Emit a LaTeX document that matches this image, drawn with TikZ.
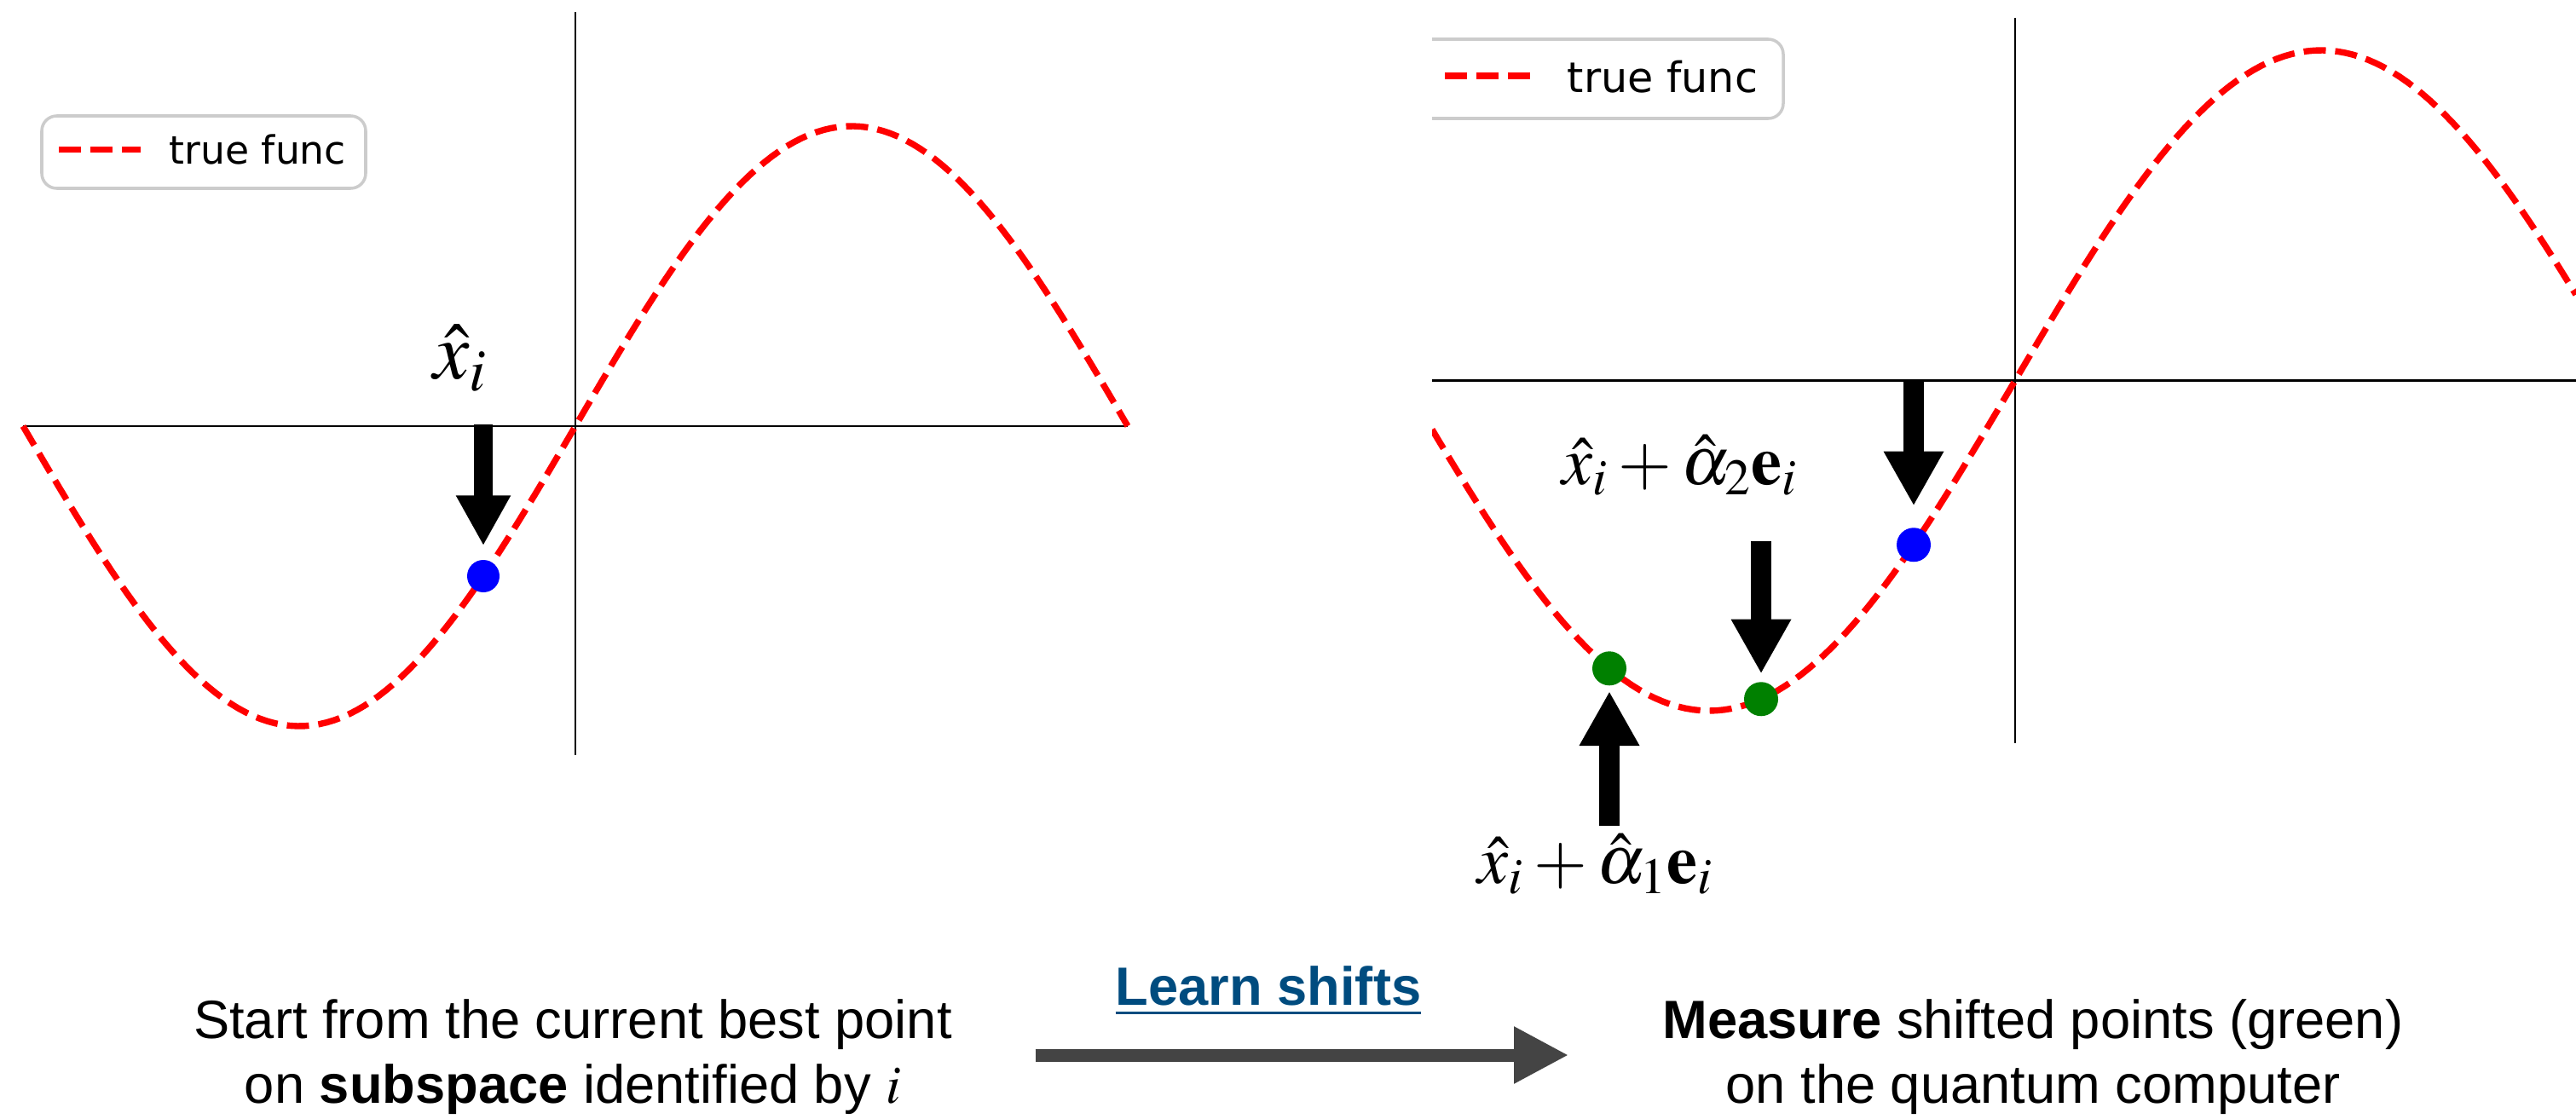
\documentclass[tikz,border=0pt]{standalone}
\usepackage{mathptmx}
\usepackage[no-math]{fontspec}
\setmainfont{Liberation Sans}
\newfontfamily\legfont{DejaVu Sans}
\usepackage{xcolor}
\usetikzlibrary{positioning, arrows.meta, calc}

\definecolor{mplgreen}{RGB}{0,128,0}
\definecolor{leggray}{RGB}{204,204,204}
\definecolor{arrgray}{RGB}{68,68,68}
\definecolor{learnblue}{RGB}{0,76,127}

\begin{document}
\begin{tikzpicture}[
  font=\fontsize{18}{21.6}\selectfont,
  axisline/.style={line width=0.8pt, black},
  curve/.style={red, line width=2.1pt, dash pattern=on 0.26cm off 0.11cm},
  legbox/.style={draw=leggray, line width=1pt, rounded corners=5pt, fill=white},
  legtext/.style={anchor=base west, inner sep=0pt},
  dot/.style={circle, inner sep=0pt, draw=none},
  bdot/.style={dot, fill=blue},
  gdot/.style={dot, fill=mplgreen, minimum size=0.40cm},
  fatarr/.style={-{Triangle[length=0.59cm, width=0.60cm]}, line width=0.22cm, black},
  fatarrR/.style={-{Triangle[length=0.64cm, width=0.66cm]}, line width=0.24cm, black},
  mathlbl/.style={anchor=base, inner sep=0pt},
  caption/.style={align=center, inner sep=0pt},
  bigarr/.style={-{Triangle[length=0.64cm, width=0.63cm]}, line width=0.15cm, arrgray},
  learn/.style={anchor=base, inner sep=0pt, text=learnblue, font=\fontsize{18}{22}\selectfont\bfseries},
]
\useasboundingbox (0,0) rectangle (30.22,13.12);

% --- curve parameters (left / right panel) ---
\def\xL{6.75}
\def\yL{8.12}
\def\aL{3.52}
\def\hL{6.48}
\def\xR{23.64}
\def\yR{8.655}
\def\aR{3.875}
\def\hR{7.18}

% =========================================================
% Left panel
% =========================================================
\draw[axisline] (0.27,\yL) -- (13.23,\yL);
\draw[axisline] (\xL,12.98) -- (\xL,4.26);
\draw[curve] plot[domain=0.27:13.23, samples=150] (\x, {\yL+\aL*sin(180*(\x-\xL)/\hL)});

\draw[legbox] (0.49,11.76) rectangle (4.29,10.91);
\draw[curve] (0.69,11.365) -- (1.65,11.365);
\node[legtext, font=\legfont\fontsize{13}{15}\selectfont] (legL) at (1.98,11.20) {true func};

\node[bdot, minimum size=0.38cm] (ptL) at (5.67, {\yL+\aL*sin(180*(5.67-\xL)/\hL)}) {};
\coordinate (tailL) at (5.67,8.14);
\draw[fatarr] (tailL) -- ([yshift=0.16cm]ptL.north);
\node[mathlbl, font=\fontsize{27}{30}\selectfont] (lblL) at (5.40,8.68) {$\hat{x}_i$};

% =========================================================
% Right panel
% =========================================================
\begin{scope}
  \clip (16.80,0) rectangle (30.22,13.12);
  \draw[axisline] (16.80,\yR) -- (30.22,\yR);
  \draw[axisline] (\xR,12.91) -- (\xR,4.40);
  \draw[curve] plot[domain=16.80:30.22, samples=150] (\x, {\yR+\aR*sin(180*(\x-\xR)/\hR)});
  \draw[legbox] (16.40,12.66) rectangle (20.92,11.73);
\end{scope}
\draw[curve] (16.95,12.23) -- (17.99,12.23);
\node[legtext, font=\legfont\fontsize{14}{16}\selectfont] (legR) at (18.38,12.04) {true func};

\node[bdot, minimum size=0.40cm] (ptR) at (22.45, {\yR+\aR*sin(180*(22.45-\xR)/\hR)}) {};
\node[gdot] (ptG1) at (18.88, {\yR+\aR*sin(180*(18.88-\xR)/\hR)}) {};
\node[gdot] (ptG2) at (20.66, {\yR+\aR*sin(180*(20.66-\xR)/\hR)}) {};

\coordinate (tailR) at (22.45,8.67);
\coordinate (tailG1) at (18.88,3.43);
\coordinate (tailG2) at (20.66,6.77);
\draw[fatarrR] (tailR) -- ([yshift=0.25cm]ptR.north);
\draw[fatarrR] (tailG2) -- ([yshift=0.09cm]ptG2.north);
\draw[fatarrR] (tailG1) -- ([yshift=-0.06cm]ptG1.south);

\node[mathlbl, font=\fontsize{23}{26}\selectfont] (lblA2) at (19.71,7.44) {$\hat{x}_i+\hat{\alpha}_2\mathbf{e}_i$};
\node[mathlbl, font=\fontsize{23}{26}\selectfont] (lblA1) at (18.72,2.76) {$\hat{x}_i+\hat{\alpha}_1\mathbf{e}_i$};

% =========================================================
% Bottom row
% =========================================================
\node[caption] (start) at (6.72,0.72) {Start from the current best point\\on \textbf{subspace} identified by $i$};
\node[caption] (measure) at (23.85,0.72) {\textbf{Measure} shifted points (green)\\on the quantum computer};
\draw[bigarr] ([xshift=0.97cm, yshift=0.02cm]start.east) -- ([xshift=-1.10cm, yshift=0.02cm]measure.west);
\node[learn] (learn) at (14.88,1.33) {\underline{Learn shifts}};

\end{tikzpicture}
\end{document}
